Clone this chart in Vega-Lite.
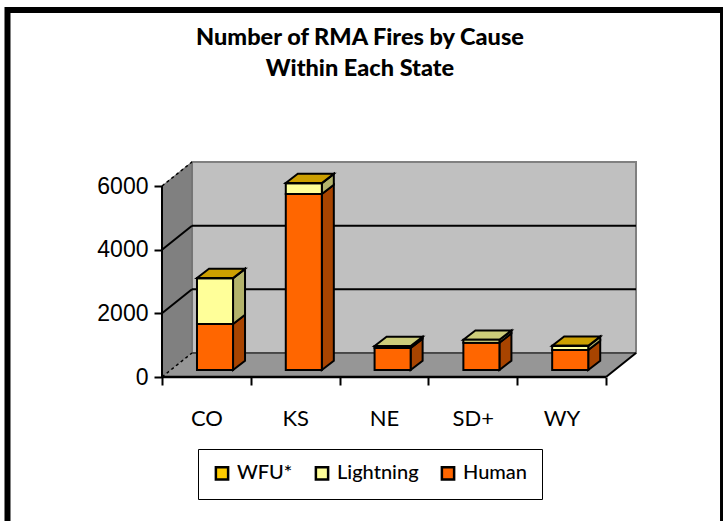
{
"$schema":"https://vega.github.io/schema/vega-lite/v6.json",
"width":474,"height":216,
"autosize":{"type":"none"},
"padding":{"left":162,"top":161,"right":87,"bottom":144},
"background":"white",
"view":{"stroke":null},
"title":{"text":["Number of RMA Fires by Cause","Within Each State"],"font":"Lato","fontWeight":900,"fontSize":23.5,"lineHeight":31,"color":"black","anchor":"middle","dx":-39,"offset":-74},
"datasets":{
"fires":[
{"state":"CO","idx":0,"order":1,"cause":"Human","value":1445},
{"state":"CO","idx":0,"order":2,"cause":"Lightning","value":1435},
{"state":"CO","idx":0,"order":3,"cause":"WFU*","value":10},
{"state":"KS","idx":1,"order":1,"cause":"Human","value":5530},
{"state":"KS","idx":1,"order":2,"cause":"Lightning","value":335},
{"state":"KS","idx":1,"order":3,"cause":"WFU*","value":10},
{"state":"NE","idx":2,"order":1,"cause":"Human","value":690},
{"state":"NE","idx":2,"order":2,"cause":"Lightning","value":64},
{"state":"NE","idx":2,"order":3,"cause":"WFU*","value":0},
{"state":"SD+","idx":3,"order":1,"cause":"Human","value":858},
{"state":"SD+","idx":3,"order":2,"cause":"Lightning","value":90},
{"state":"SD+","idx":3,"order":3,"cause":"WFU*","value":0},
{"state":"WY","idx":4,"order":1,"cause":"Human","value":628},
{"state":"WY","idx":4,"order":2,"cause":"Lightning","value":125},
{"state":"WY","idx":4,"order":3,"cause":"WFU*","value":10}
],
"depth":[{"depth":0},{"depth":1}],
"ticks":[{"tick":0},{"tick":2000},{"tick":4000},{"tick":6000}]
},
"encoding":{},
"layer":[
{"mark":{"type":"rect","fill":"#c0c0c0","stroke":"#808080","strokeWidth":2},
 "data":{"name":"depth"},
 "encoding":{
  "x":{"datum":0.338,"type":"quantitative","scale":{"domain":[0,5.338],"nice":false,"zero":false},
   "axis":{"title":null,"values":[0,0.5,1,1.5,2,2.5,3,3.5,4,4.5,5],"domain":false,"grid":false,
    "labelExpr":"datum.value==0.5?'CO':datum.value==1.5?'KS':datum.value==2.5?'NE':datum.value==3.5?'SD+':datum.value==4.5?'WY':''",
    "labelFont":"Lato","labelFontSize":22,"labelColor":"black","labelPadding":23,"labelOverlap":false,"labelFlush":false,
    "tickColor":"black","tickWidth":2,"tickSize":8,"tickOpacity":{"condition":{"test":"datum.value%1==0","value":1},"value":0}}},
  "x2":{"datum":5.338},
  "y":{"datum":754,"type":"quantitative","scale":{"domain":[0,6786],"nice":false,"zero":false},
   "axis":{"title":null,"values":[0,2000,4000,6000],"domain":false,"grid":false,"format":"d",
    "labelFont":"Liberation Sans","labelFontSize":23,"labelColor":"black","labelPadding":6,
    "tickColor":"black","tickWidth":2,"tickSize":8}},
  "y2":{"datum":6754}
 }},
{"data":{"name":"depth"},
 "transform":[{"calculate":"datum.depth*0.338","as":"px"},{"calculate":"datum.depth*754","as":"lo"},{"calculate":"datum.lo+6000","as":"hi"}],
 "mark":{"type":"area","fill":"#808080","stroke":"#6a6a6a","strokeWidth":1},
 "encoding":{"x":{"field":"px","type":"quantitative"},"y":{"field":"lo","type":"quantitative","stack":null},"y2":{"field":"hi"}}},
{"data":{"name":"depth"},
 "transform":[{"calculate":"datum.depth*0.338","as":"px"},{"calculate":"5+datum.depth*0.338","as":"px2"},{"calculate":"datum.depth*754","as":"lo"}],
 "mark":{"type":"area","orient":"horizontal","fill":"#969696"},
 "encoding":{"y":{"field":"lo","type":"quantitative"},"x":{"field":"px","type":"quantitative","stack":null},"x2":{"field":"px2"}}},
{"data":{"name":"ticks"},
 "transform":[{"calculate":"datum.tick+754","as":"back"},{"filter":"datum.tick>0 && datum.tick<6000"}],
 "mark":{"type":"rule","color":"black","strokeWidth":2},
 "encoding":{"x":{"datum":0.338},"x2":{"datum":5.338},"y":{"field":"back","type":"quantitative"}}},
{"data":{"name":"ticks"},
 "transform":[{"calculate":"datum.tick+754","as":"back"},{"filter":"datum.tick>0 && datum.tick<6000"}],
 "mark":{"type":"rule","color":"black","strokeWidth":2},
 "encoding":{"x":{"datum":0},"x2":{"datum":0.338},"y":{"field":"tick","type":"quantitative"},"y2":{"field":"back"}}},
{"data":{"name":"ticks"},
 "transform":[{"calculate":"datum.tick+754","as":"back"},{"filter":"datum.tick==0 || datum.tick==6000"}],
 "mark":{"type":"rule","color":"black","strokeWidth":1.5,"strokeDash":[3,3]},
 "encoding":{"x":{"datum":0},"x2":{"datum":0.338},"y":{"field":"tick","type":"quantitative"},"y2":{"field":"back"}}},
{"data":{"name":"ticks"},
 "transform":[{"filter":"datum.tick==0"},{"calculate":"754","as":"back"}],
 "mark":{"type":"rule","color":"#333333","strokeWidth":1.5},
 "encoding":{"x":{"datum":0.338},"x2":{"datum":5.338},"y":{"field":"back","type":"quantitative"}}},
{"data":{"name":"ticks"},
 "transform":[{"filter":"datum.tick==0"},{"calculate":"754","as":"back"}],
 "mark":{"type":"rule","color":"black","strokeWidth":2},
 "encoding":{"x":{"datum":5},"x2":{"datum":5.338},"y":{"field":"tick","type":"quantitative"},"y2":{"field":"back"}}},
{"data":{"name":"ticks"},
 "transform":[{"filter":"datum.tick==0"},{"calculate":"6000","as":"top"}],
 "mark":{"type":"rule","color":"black","strokeWidth":2},
 "encoding":{"x":{"datum":0},"y":{"field":"tick","type":"quantitative"},"y2":{"field":"top"}}},
{"data":{"name":"ticks"},
 "transform":[{"filter":"datum.tick==0"}],
 "mark":{"type":"rule","color":"black","strokeWidth":2.5},
 "encoding":{"x":{"datum":0},"x2":{"datum":5},"y":{"field":"tick","type":"quantitative"}}},
{"data":{"name":"fires"},
 "transform":[
  {"filter":"datum.value>0"},
  {"stack":"value","groupby":["state"],"sort":[{"field":"order","order":"ascending"}],"as":["s0","s1"]},
  {"joinaggregate":[{"op":"max","field":"s1","as":"total"}],"groupby":["state"]},
  {"calculate":"datum.idx+0.394","as":"xl"},
  {"calculate":"datum.idx+0.80","as":"xr"},
  {"calculate":"datum.s0+220","as":"yb"},
  {"calculate":"datum.s1+220","as":"yt"}
 ],
 "layer":[
  {"transform":[{"calculate":"0","as":"near"},{"calculate":"1","as":"far"},{"fold":["near","far"],"as":["end","d"]},
    {"calculate":"datum.xr+datum.d*0.135","as":"px"},{"calculate":"datum.yb+datum.d*292","as":"lo"},{"calculate":"datum.yt+datum.d*292","as":"hi"}],
   "mark":{"type":"area","stroke":"black","strokeWidth":2},
   "encoding":{"x":{"field":"px","type":"quantitative"},"y":{"field":"lo","type":"quantitative","stack":null},"y2":{"field":"hi"},"detail":{"field":"state"},
    "color":{"field":"cause","type":"nominal","legend":null,"scale":{"domain":["WFU*","Lightning","Human"],"range":["#a88500","#b3b36b","#a84400"]}}}},
  {"transform":[{"filter":"datum.s1==datum.total"},{"calculate":"0","as":"near"},{"calculate":"1","as":"far"},{"fold":["near","far"],"as":["end","d"]},
    {"calculate":"datum.xl+datum.d*0.135","as":"px"},{"calculate":"datum.xr+datum.d*0.135","as":"px2"},{"calculate":"datum.yt+datum.d*292","as":"lo"}],
   "mark":{"type":"area","orient":"horizontal","stroke":"black","strokeWidth":2},
   "encoding":{"y":{"field":"lo","type":"quantitative"},"x":{"field":"px","type":"quantitative","stack":null},"x2":{"field":"px2"},"detail":{"field":"state"},
    "color":{"field":"cause","type":"nominal","legend":null,"scale":{"domain":["WFU*","Lightning","Human"],"range":["#cc9f00","#cccc7a","#cc5200"]}}}},
  {"mark":{"type":"rect","stroke":"black","strokeWidth":2},
   "encoding":{"x":{"field":"xl","type":"quantitative"},"x2":{"field":"xr"},"y":{"field":"yb","type":"quantitative"},"y2":{"field":"yt"},
    "color":{"field":"cause","type":"nominal","sort":null,"scale":{"domain":["WFU*","Lightning","Human"],"range":["#ffcc00","#ffff99","#ff6600"]},
     "legend":{"title":null,"orient":"none","legendX":36,"legendY":288,"direction":"horizontal","columns":3,"columnPadding":17,"padding":14,"fillColor":"white","strokeColor":"black",
      "symbolType":"square","symbolSize":150,"symbolStrokeColor":"black","symbolStrokeWidth":2.5,"labelFont":"Lato","labelFontSize":20,"labelFontWeight":500,"labelColor":"black","labelOffset":5}}}}
 ],
 "resolve":{"scale":{"color":"independent"}}
},
{"data":{"name":"ticks"},
 "transform":[{"filter":"datum.tick==0"}],
 "mark":{"type":"rect","fill":null,"stroke":"black","strokeWidth":6,"clip":false},
 "encoding":{"x":{"datum":-1.74},"x2":{"datum":6.318},"y":{"datum":11530},"y2":{"datum":-5000}}}
]
}
